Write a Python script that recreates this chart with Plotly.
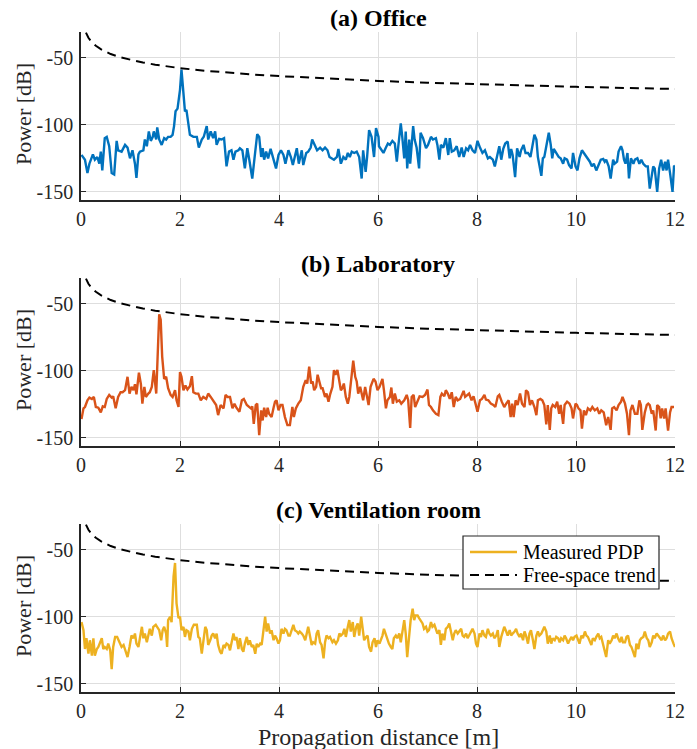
import plotly.graph_objects as go

# ---------------- data (distance [m], power [dB]) ----------------
office_pdp = [
    (0.01, -122.5), (0.08, -126), (0.13, -136), (0.17, -129), (0.24, -122), (0.28, -126), (0.33, -124),
    (0.37, -129), (0.40, -120), (0.43, -134), (0.48, -110), (0.52, -109), (0.57, -116), (0.62, -136),
    (0.67, -137), (0.72, -112), (0.75, -119), (0.82, -120), (0.89, -115), (0.94, -117), (0.99, -125),
    (1.04, -119), (1.09, -129), (1.12, -139.5), (1.16, -122), (1.19, -120), (1.26, -119), (1.29, -111),
    (1.33, -116), (1.37, -105), (1.41, -112), (1.45, -109), (1.47, -105), (1.52, -111), (1.54, -102),
    (1.58, -111), (1.63, -115), (1.68, -110), (1.72, -111), (1.76, -109), (1.81, -109), (1.85, -107.5),
    (1.88, -101), (1.91, -90), (1.95, -88), (2.00, -74), (2.03, -59), (2.07, -76), (2.10, -90),
    (2.13, -89), (2.17, -100), (2.20, -107.5), (2.27, -109), (2.34, -109), (2.38, -117), (2.44, -111),
    (2.48, -109), (2.54, -101), (2.57, -111), (2.62, -105), (2.67, -110), (2.71, -105), (2.74, -115),
    (2.79, -110.5), (2.84, -111), (2.89, -110), (2.94, -131), (2.99, -120), (3.04, -119), (3.08, -126),
    (3.12, -120), (3.18, -119), (3.21, -117.5), (3.26, -119), (3.31, -132.5), (3.36, -117.5), (3.40, -126),
    (3.46, -140), (3.52, -120), (3.56, -107), (3.60, -109), (3.64, -124), (3.67, -117.5), (3.70, -126),
    (3.74, -120), (3.78, -125), (3.83, -118), (3.89, -125), (3.94, -132.5), (3.99, -122.5), (4.04, -119),
    (4.09, -122.5), (4.13, -129), (4.19, -119), (4.24, -124), (4.28, -130), (4.32, -122.5), (4.36, -117.5),
    (4.40, -129), (4.46, -119), (4.49, -130), (4.55, -121), (4.59, -120), (4.64, -117), (4.67, -111),
    (4.73, -116), (4.77, -119), (4.83, -117), (4.88, -119), (4.93, -117), (4.98, -119), (5.02, -124),
    (5.06, -125), (5.11, -126), (5.17, -124), (5.20, -118), (5.25, -129), (5.30, -124), (5.35, -126),
    (5.39, -121), (5.43, -124), (5.47, -120), (5.52, -121), (5.57, -120), (5.62, -124), (5.67, -140),
    (5.70, -119), (5.75, -135), (5.78, -124), (5.82, -104), (5.87, -109), (5.92, -124), (5.96, -102.5),
    (6.01, -109), (6.02, -116), (6.07, -119), (6.11, -121), (6.16, -117), (6.20, -114), (6.24, -115),
    (6.29, -112), (6.34, -114), (6.38, -127.5), (6.41, -116), (6.46, -99), (6.49, -109), (6.53, -125),
    (6.56, -105), (6.59, -132.5), (6.63, -111), (6.65, -129), (6.71, -101), (6.74, -111), (6.78, -117),
    (6.83, -132.5), (6.86, -106), (6.91, -110), (6.97, -117.5), (7.01, -115), (7.07, -109), (7.11, -111),
    (7.17, -110), (7.20, -115), (7.24, -126), (7.27, -115), (7.32, -117), (7.37, -110), (7.42, -122.5),
    (7.45, -110), (7.49, -120), (7.54, -119), (7.59, -116), (7.64, -124), (7.69, -117), (7.73, -124),
    (7.78, -117.5), (7.82, -119), (7.86, -115), (7.91, -119), (7.96, -121), (8.01, -112), (8.06, -117),
    (8.11, -121), (8.16, -119), (8.22, -125), (8.26, -124), (8.32, -126), (8.36, -131), (8.41, -121),
    (8.45, -116), (8.49, -126), (8.53, -118), (8.57, -114), (8.62, -112.5), (8.66, -125), (8.69, -118),
    (8.72, -122.5), (8.77, -139), (8.81, -117.5), (8.86, -124), (8.89, -119), (8.94, -115), (8.98, -121),
    (9.03, -121), (9.08, -124), (9.13, -115), (9.16, -107.5), (9.20, -111), (9.23, -124), (9.26, -130),
    (9.30, -138), (9.33, -125), (9.36, -124), (9.41, -114), (9.45, -106), (9.49, -115), (9.52, -125),
    (9.55, -118), (9.60, -121), (9.65, -124), (9.69, -125), (9.74, -129), (9.77, -125), (9.82, -126),
    (9.86, -130), (9.91, -132.5), (9.94, -121), (9.99, -131), (10.03, -134), (10.07, -125), (10.12, -119),
    (10.18, -122.5), (10.23, -125), (10.28, -127.5), (10.32, -131), (10.36, -129), (10.41, -134),
    (10.46, -129), (10.50, -126), (10.55, -125.5), (10.58, -127.5), (10.61, -126), (10.66, -131),
    (10.70, -140), (10.75, -126), (10.78, -129), (10.83, -127.5), (10.86, -120), (10.91, -116),
    (10.94, -119), (10.97, -126), (11.00, -129), (11.04, -121), (11.07, -140), (11.11, -125),
    (11.16, -129), (11.19, -126), (11.24, -125), (11.28, -129), (11.32, -126), (11.36, -129),
    (11.41, -131), (11.45, -131), (11.49, -147.5), (11.53, -136), (11.56, -131), (11.59, -132.5),
    (11.64, -150), (11.68, -132.5), (11.72, -126), (11.76, -134), (11.80, -127.5), (11.83, -134),
    (11.86, -126), (11.90, -136), (11.95, -150), (11.98, -131), (12.00, -130.5),
]

laboratory_pdp = [
    (0.01, -136), (0.05, -128), (0.08, -127), (0.13, -122), (0.17, -120), (0.22, -121), (0.26, -119.5),
    (0.30, -127), (0.35, -127.5), (0.40, -131), (0.44, -126.5), (0.48, -127), (0.52, -121), (0.57, -118),
    (0.62, -120), (0.65, -119), (0.70, -128), (0.75, -119.5), (0.80, -116), (0.84, -116), (0.89, -114.5),
    (0.94, -104.5), (0.98, -117), (1.02, -112), (1.06, -114.5), (1.09, -110), (1.12, -117.5), (1.17, -101.5),
    (1.21, -110), (1.24, -124.5), (1.28, -112), (1.31, -119.5), (1.36, -117), (1.39, -116), (1.43, -112),
    (1.47, -99.5), (1.52, -117), (1.54, -99.5), (1.58, -58), (1.61, -62), (1.64, -89.5), (1.68, -106),
    (1.72, -104.5), (1.76, -113), (1.81, -118), (1.85, -119.5), (1.90, -114.5), (1.93, -122), (1.97, -127),
    (2.00, -101), (2.03, -104.5), (2.07, -114.5), (2.11, -111), (2.15, -114), (2.20, -111.5), (2.24, -104),
    (2.27, -116), (2.32, -117), (2.37, -117), (2.42, -122), (2.47, -119.5), (2.53, -121), (2.57, -117),
    (2.62, -119.5), (2.67, -122), (2.73, -125.5), (2.77, -133), (2.82, -125.5), (2.88, -128), (2.92, -118),
    (2.96, -119.5), (3.01, -119.5), (3.06, -128), (3.10, -124.5), (3.14, -127.5), (3.20, -130.5), (3.25, -122),
    (3.29, -121), (3.35, -125.5), (3.39, -127), (3.43, -128), (3.46, -126.5), (3.49, -139.5), (3.53, -125.5),
    (3.56, -124.5), (3.60, -148), (3.64, -129.5), (3.67, -137), (3.70, -127.5), (3.74, -134.5), (3.77, -127.5),
    (3.80, -132), (3.85, -134.5), (3.89, -127.5), (3.92, -123), (3.95, -122), (3.99, -129.5), (4.03, -125.5),
    (4.07, -125.5), (4.12, -134.5), (4.17, -140.5), (4.22, -140.5), (4.27, -127), (4.30, -134.5), (4.34, -128),
    (4.39, -124.5), (4.44, -122), (4.49, -112), (4.54, -107), (4.57, -109.5), (4.61, -97), (4.65, -109.5),
    (4.68, -108), (4.71, -114.5), (4.75, -112), (4.78, -103), (4.81, -107), (4.85, -113), (4.88, -113),
    (4.93, -119.5), (4.96, -117), (5.00, -123), (5.03, -118), (5.08, -112), (5.11, -99.5), (5.14, -103),
    (5.18, -99.5), (5.21, -106), (5.25, -114.5), (5.28, -113), (5.31, -109.5), (5.35, -119.5), (5.39, -124.5),
    (5.42, -119.5), (5.47, -99.5), (5.50, -92.5), (5.54, -104.5), (5.57, -108), (5.60, -117), (5.64, -112),
    (5.67, -117), (5.70, -122), (5.74, -112), (5.77, -117), (5.81, -125.5), (5.85, -112), (5.91, -106),
    (5.95, -108), (5.99, -114.5), (6.03, -112), (6.09, -106), (6.12, -114.5), (6.16, -128), (6.19, -122),
    (6.24, -119.5), (6.27, -112.5), (6.30, -124.5), (6.34, -117), (6.38, -123), (6.43, -122), (6.47, -124.5),
    (6.53, -122), (6.58, -118), (6.61, -122), (6.65, -142.5), (6.68, -119.5), (6.72, -118), (6.75, -127),
    (6.80, -122), (6.84, -119), (6.90, -119.5), (6.95, -118), (7.00, -114), (7.03, -125.5), (7.07, -127),
    (7.11, -129.5), (7.17, -132), (7.22, -133), (7.26, -119.5), (7.29, -117), (7.34, -119), (7.37, -114.5),
    (7.41, -117), (7.45, -121), (7.49, -116), (7.53, -127), (7.57, -119.5), (7.61, -122), (7.66, -121),
    (7.70, -117), (7.73, -115), (7.76, -119.5), (7.80, -118), (7.84, -117), (7.89, -122), (7.93, -119),
    (7.97, -124.5), (8.01, -130.5), (8.06, -122), (8.10, -121), (8.15, -118), (8.18, -121.5), (8.23, -122),
    (8.28, -124.5), (8.33, -125.5), (8.37, -127), (8.42, -119), (8.45, -118), (8.50, -123), (8.55, -127),
    (8.59, -124.5), (8.64, -122), (8.68, -134.5), (8.71, -124.5), (8.74, -134.5), (8.78, -122), (8.82, -125.5),
    (8.87, -117), (8.91, -124.5), (8.96, -127), (8.99, -114.5), (9.03, -116), (9.07, -125.5), (9.11, -122),
    (9.16, -127), (9.20, -133), (9.23, -122), (9.28, -121), (9.32, -122), (9.36, -125.5), (9.40, -140),
    (9.43, -125.5), (9.47, -144), (9.50, -128), (9.53, -125.5), (9.58, -127), (9.62, -123), (9.66, -132),
    (9.69, -125.5), (9.74, -139.5), (9.77, -125.5), (9.82, -123), (9.87, -124.5), (9.91, -128), (9.94, -135.5),
    (9.99, -124.5), (10.02, -125.5), (10.05, -128), (10.09, -129.5), (10.12, -143), (10.16, -129.5),
    (10.20, -133), (10.24, -128), (10.29, -129.5), (10.33, -127), (10.38, -129.5), (10.43, -128), (10.47, -132),
    (10.51, -129.5), (10.56, -131), (10.61, -140.5), (10.65, -134.5), (10.70, -144), (10.73, -128),
    (10.77, -127), (10.82, -129.5), (10.86, -125.5), (10.91, -123), (10.94, -119.5), (10.99, -124.5),
    (11.03, -132), (11.07, -148), (11.10, -129.5), (11.14, -125.5), (11.19, -132), (11.24, -132),
    (11.28, -122), (11.31, -125.5), (11.34, -144), (11.39, -131), (11.43, -125.5), (11.46, -124.5),
    (11.49, -125.5), (11.53, -132), (11.56, -129.5), (11.61, -144.5), (11.64, -125.5), (11.68, -127),
    (11.71, -135.5), (11.74, -128), (11.78, -135.5), (11.81, -128), (11.86, -144.5), (11.90, -131),
    (11.93, -127), (11.98, -127),
]

ventilation_pdp = [
    (0.01, -104), (0.05, -110), (0.08, -124), (0.11, -116), (0.15, -127.5), (0.18, -117.5), (0.22, -129),
    (0.25, -116), (0.28, -129), (0.32, -124), (0.35, -122.5), (0.38, -120), (0.42, -116), (0.45, -124),
    (0.48, -122.5), (0.52, -124), (0.55, -120), (0.59, -125), (0.62, -139), (0.65, -122.5), (0.69, -115),
    (0.73, -115), (0.77, -119), (0.82, -122.5), (0.86, -121), (0.90, -126), (0.94, -130), (0.98, -122.5),
    (1.02, -114), (1.06, -116), (1.09, -112.5), (1.12, -120), (1.16, -122.5), (1.19, -116), (1.23, -107.5),
    (1.26, -116), (1.29, -112.5), (1.33, -119), (1.36, -115), (1.39, -109), (1.43, -114), (1.46, -107.5),
    (1.51, -106), (1.54, -107.5), (1.58, -110), (1.62, -117.5), (1.65, -110), (1.68, -107.5), (1.72, -112.5),
    (1.74, -122.5), (1.76, -102.5), (1.80, -100), (1.83, -104), (1.87, -70), (1.90, -60), (1.93, -90),
    (1.97, -101), (2.00, -100), (2.03, -110), (2.07, -107.5), (2.10, -115), (2.13, -110), (2.17, -111),
    (2.20, -117.5), (2.24, -109), (2.28, -106), (2.34, -106), (2.37, -115), (2.40, -116), (2.44, -127.5),
    (2.47, -117.5), (2.51, -107.5), (2.54, -110), (2.57, -121), (2.61, -117.5), (2.64, -114), (2.67, -112.5),
    (2.71, -116), (2.74, -112.5), (2.77, -121), (2.81, -126), (2.84, -127.5), (2.88, -121), (2.91, -122.5),
    (2.94, -120), (2.98, -121), (3.01, -125), (3.04, -119), (3.08, -112.5), (3.11, -117.5), (3.14, -115),
    (3.18, -124), (3.21, -116), (3.25, -124), (3.28, -126), (3.31, -120), (3.35, -115), (3.38, -121),
    (3.41, -117.5), (3.45, -122.5), (3.48, -121), (3.52, -127.5), (3.55, -120), (3.58, -122.5), (3.62, -120),
    (3.65, -121), (3.68, -112.5), (3.72, -100), (3.75, -111), (3.78, -105), (3.82, -112.5), (3.85, -110),
    (3.89, -117.5), (3.92, -114), (3.95, -116), (3.99, -120), (4.02, -117.5), (4.05, -109), (4.09, -112.5),
    (4.12, -109), (4.15, -110), (4.19, -114), (4.22, -114), (4.26, -109), (4.29, -106), (4.32, -110),
    (4.36, -111), (4.39, -112.5), (4.42, -111), (4.46, -112.5), (4.49, -114), (4.53, -117.5), (4.56, -112.5),
    (4.59, -107.5), (4.63, -115), (4.66, -121), (4.69, -119), (4.73, -120), (4.76, -112.5), (4.79, -110),
    (4.83, -119), (4.86, -121), (4.90, -131), (4.93, -119), (4.96, -114), (5.00, -116), (5.03, -115),
    (5.08, -119), (5.11, -117.5), (5.15, -120), (5.19, -117.5), (5.22, -112.5), (5.25, -114), (5.29, -112.5),
    (5.32, -109), (5.35, -115), (5.39, -107.5), (5.42, -102.5), (5.45, -111), (5.49, -104), (5.52, -115),
    (5.56, -107.5), (5.59, -105), (5.62, -114), (5.66, -100), (5.69, -107.5), (5.72, -117.5), (5.76, -115),
    (5.79, -114), (5.82, -122.5), (5.86, -126), (5.89, -119), (5.93, -116), (5.96, -122.5), (5.99, -117.5),
    (6.03, -120), (6.09, -114), (6.12, -109), (6.16, -114), (6.19, -116), (6.22, -120), (6.26, -122.5),
    (6.29, -124), (6.32, -116), (6.36, -114), (6.39, -116), (6.43, -112.5), (6.46, -119), (6.49, -110),
    (6.53, -102.5), (6.56, -112.5), (6.59, -130), (6.63, -114), (6.66, -102.5), (6.70, -94), (6.73, -102.5),
    (6.76, -99), (6.80, -99), (6.83, -101), (6.86, -102.5), (6.90, -105), (6.93, -109), (6.97, -107.5),
    (7.00, -111), (7.03, -110), (7.07, -104), (7.10, -107.5), (7.14, -106), (7.17, -109), (7.20, -112.5),
    (7.24, -110), (7.27, -121), (7.30, -112.5), (7.34, -117.5), (7.37, -109), (7.41, -107.5), (7.44, -105),
    (7.47, -111), (7.51, -117.5), (7.54, -112.5), (7.57, -110), (7.61, -112.5), (7.64, -111), (7.68, -109),
    (7.71, -114), (7.74, -115), (7.78, -112.5), (7.81, -116), (7.84, -114), (7.88, -111), (7.91, -109),
    (7.95, -112.5), (7.98, -120), (8.01, -122.5), (8.05, -112.5), (8.08, -115), (8.11, -110), (8.15, -114),
    (8.18, -115), (8.22, -109), (8.25, -112.5), (8.28, -114), (8.32, -112.5), (8.35, -116), (8.39, -114),
    (8.42, -110), (8.45, -122.5), (8.49, -115), (8.52, -111), (8.55, -107.5), (8.59, -111), (8.62, -114),
    (8.66, -110), (8.69, -114), (8.72, -112.5), (8.76, -111), (8.79, -109), (8.82, -112.5), (8.86, -115),
    (8.89, -112.5), (8.93, -117.5), (8.96, -111), (8.99, -114), (9.03, -120), (9.06, -112.5), (9.09, -110),
    (9.13, -117.5), (9.16, -124), (9.20, -114), (9.23, -111), (9.26, -114), (9.30, -112.5), (9.33, -110),
    (9.36, -107.5), (9.40, -111), (9.43, -120), (9.47, -114), (9.50, -120), (9.53, -116), (9.57, -117.5),
    (9.60, -115), (9.64, -116), (9.67, -119), (9.70, -116), (9.74, -117.5), (9.77, -114), (9.80, -116),
    (9.84, -120), (9.87, -117.5), (9.91, -115), (9.94, -117.5), (9.97, -115), (10.01, -114), (10.04, -117.5),
    (10.07, -120), (10.11, -114), (10.14, -116), (10.18, -111), (10.21, -114), (10.24, -115), (10.28, -119),
    (10.31, -121), (10.34, -116), (10.38, -117.5), (10.41, -115), (10.45, -112.5), (10.48, -116),
    (10.51, -115), (10.55, -121), (10.58, -125), (10.61, -130), (10.65, -117.5), (10.68, -120),
    (10.72, -117.5), (10.75, -114), (10.78, -116), (10.82, -112.5), (10.85, -116), (10.89, -119),
    (10.92, -115), (10.95, -119), (10.99, -119), (11.02, -115), (11.05, -114), (11.09, -121), (11.12, -122.5),
    (11.16, -126), (11.19, -130), (11.22, -120), (11.26, -124), (11.29, -117.5), (11.32, -116), (11.36, -115),
    (11.39, -111), (11.43, -116), (11.46, -117.5), (11.49, -122.5), (11.53, -119), (11.56, -114),
    (11.59, -116), (11.63, -112.5), (11.66, -114), (11.70, -116), (11.73, -117.5), (11.76, -114),
    (11.80, -117.5), (11.83, -116), (11.86, -112.5), (11.90, -111), (11.93, -116), (11.97, -120), (12.00, -122.5),
]

trend_distance = [0.10, 0.12, 0.15, 0.20, 0.25, 0.30, 0.40, 0.50, 0.60, 0.80, 1.00, 1.25, 1.50, 1.75,
                  2.00, 2.50, 3.00, 3.50, 4.00, 5.00, 6.00, 7.00, 8.00, 9.00, 10.00, 11.00, 12.00]
trend_power = [-31.5, -33.5, -35.3, -37.8, -39.8, -41.3, -43.8, -45.8, -47.4, -49.9, -51.8, -53.7, -55.3, -56.7,
               -57.9, -59.8, -61.4, -62.7, -63.8, -65.8, -67.4, -68.7, -69.9, -70.9, -71.8, -72.6, -73.4]

panel_titles = ["(a) Office", "(b) Laboratory", "(c) Ventilation room"]
series_colors = ["#0072BD", "#D95319", "#EDB120"]
x_ticks = [0, 2, 4, 6, 8, 10, 12]
y_ticks = [-150, -100, -50]
y_tick_labels = ["-150", "-100", "-50"]
legend_names = ["Measured PDP", "Free-space trend"]

# ---------------- figure ----------------
W, H = 697, 749
ML, MR, MT, MB = 81, 22, 32, 57
PH = H - MT - MB
PW = W - ML - MR
FONT = "Liberation Serif"
INK = "#262626"
TREND_DASH = "9px,6px"
PDP_WIDTH = 2.4

def py(p):  # pixel row -> paper y
    return (H - MB - p) / PH

def px(p):  # pixel col -> paper x
    return (p - ML) / PW

panels = [office_pdp, laboratory_pdp, ventilation_pdp]
panel_px = [(32, 200), (278, 446), (524, 692)]  # top, bottom pixel rows

fig = go.Figure()
for i, pts in enumerate(panels):
    d, p = zip(*pts)
    ax = "" if i == 0 else str(i + 1)
    fig.add_trace(go.Scatter(x=list(d), y=list(p), mode="lines", name=legend_names[0],
                             line=dict(color=series_colors[i], width=PDP_WIDTH),
                             xaxis="x" + ax, yaxis="y" + ax, showlegend=False))
    fig.add_trace(go.Scatter(x=trend_distance, y=trend_power, mode="lines", name=legend_names[1],
                             line=dict(color="black", width=2, dash=TREND_DASH),
                             xaxis="x" + ax, yaxis="y" + ax, showlegend=False))

axis_common = dict(showline=True, linecolor=INK, linewidth=1.5, mirror=False,
                   ticks="inside", ticklen=5, tickwidth=1.2, tickcolor=INK,
                   showgrid=True, gridcolor="#dedede", gridwidth=1.2, zeroline=False,
                   tickfont=dict(family=FONT, size=20, color=INK))

layout = dict(width=W, height=H, margin=dict(l=ML, r=MR, t=MT, b=MB),
              paper_bgcolor="white", plot_bgcolor="white", showlegend=False,
              font=dict(family=FONT, color=INK), annotations=[], shapes=[])

for i in range(3):
    top, bot = panel_px[i]
    ax = "" if i == 0 else str(i + 1)
    layout["xaxis" + ax] = dict(axis_common, range=[0, 12], tickvals=x_ticks,
                                anchor="y" + ax, domain=[0, 1])
    layout["yaxis" + ax] = dict(axis_common, range=[-156, -31], tickvals=y_ticks,
                                ticktext=y_tick_labels, anchor="x" + ax,
                                domain=[py(bot), py(top)], ticklabelstandoff=2)
    layout["annotations"].append(dict(text="<b>%s</b>" % panel_titles[i], xref="paper", yref="paper",
                                      x=0.5, y=py(top - 14), xanchor="center", yanchor="middle",
                                      showarrow=False, font=dict(family=FONT, size=24, color="black")))
    layout["annotations"].append(dict(text="Power [dB]", xref="paper", yref="paper",
                                      x=px(23), y=py((top + bot) / 2 - 2), xanchor="center", yanchor="middle",
                                      textangle=-90, showarrow=False,
                                      font=dict(family=FONT, size=22, color=INK)))

layout["annotations"].append(dict(text="Propagation distance [m]", xref="paper", yref="paper",
                                  x=0.5, y=py(737), xanchor="center", yanchor="middle", showarrow=False,
                                  font=dict(family=FONT, size=24, color=INK)))

# legend box for panel (c), drawn in paper coordinates
LX0, LX1, LY0, LY1 = 463, 659, 536, 589
layout["shapes"].append(dict(type="rect", xref="paper", yref="paper", layer="above",
                             x0=px(LX0), x1=px(LX1), y0=py(LY1), y1=py(LY0),
                             fillcolor="white", line=dict(color=INK, width=1.2)))
legend_rows = [(552, dict(color=series_colors[2], width=PDP_WIDTH)),
               (575, dict(color="black", width=2, dash=TREND_DASH))]
for (row, ln), name in zip(legend_rows, legend_names):
    layout["shapes"].append(dict(type="line", xref="paper", yref="paper", layer="above",
                                 x0=px(470), x1=px(517), y0=py(row), y1=py(row), line=ln))
    layout["annotations"].append(dict(text=name, xref="paper", yref="paper", x=px(521), y=py(row),
                                      xanchor="left", yanchor="middle", showarrow=False,
                                      font=dict(family=FONT, size=20, color="black")))

fig.update_layout(**layout)
fig.write_html("out.html")
